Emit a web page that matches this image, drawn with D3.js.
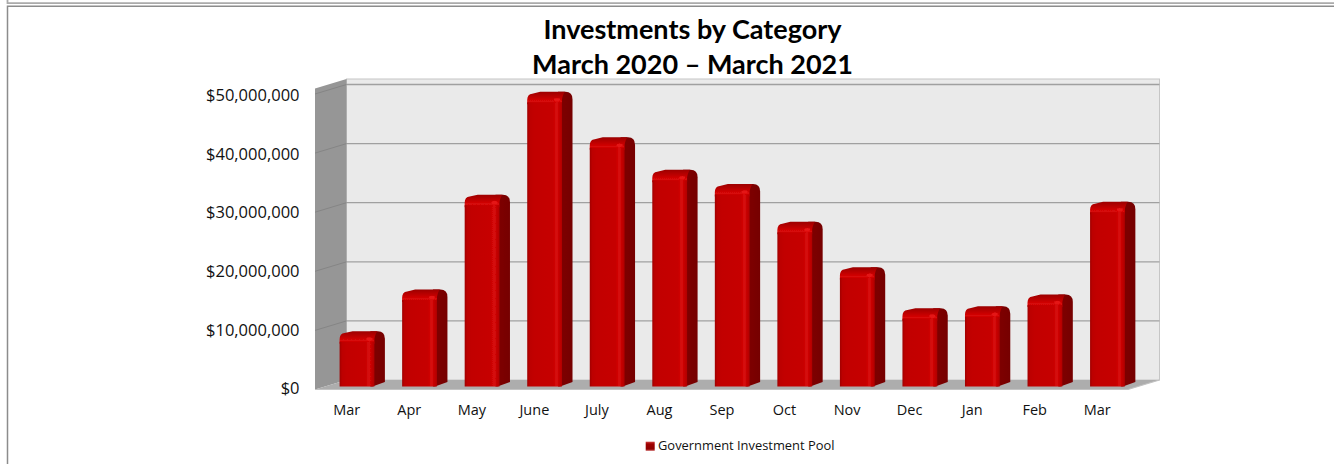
<!DOCTYPE html>
<html>
<head>
<meta charset="utf-8">
<script src="https://cdn.jsdelivr.net/npm/d3@7/dist/d3.min.js"></script>
<style>
html,body{margin:0;padding:0;background:#fff;}
svg{display:block;}
</style>
</head>
<body>
<svg id="chart" width="1334" height="464"></svg>
<script>
const categories = ["Mar","Apr","May","June","July","Aug","Sep","Oct","Nov","Dec","Jan","Feb","Mar"];
const seriesValues = [8.6,15.65,31.7,49.1,41.4,35.9,33.5,27.1,19.4,12.5,12.8,14.8,30.5].map(v => v * 1e6);
const tickValues = [0,10,20,30,40,50].map(v => v * 1e6);
const titleLines = ["Investments by Category","March 2020 \u2013 March 2021"];
const seriesName = "Government Investment Pool";

const svg = d3.select("#chart");
const defs = svg.append("defs");

// Plot box: front plane of the floor and the offset of the back wall
const box = {x0:315, x1:1128, depthX:31.5, depthY:-9.5, yZero:389.5, pxPer10M:59.1};
const yFront = d3.scaleLinear().domain([0,50e6]).range([box.yZero, box.yZero - 5*box.pxPer10M]);
const yLabel = d3.scaleLinear().domain([0,50e6]).range([388.5, 95.5]);
const xBand = d3.scaleBand().domain(d3.range(categories.length)).range([box.x0, box.x1]).padding(0);
const yBack = v => yFront(v) + box.depthY;

// Bar shading
function gradient(id, stops, vertical) {
  const lg = defs.append("linearGradient").attr("id",id);
  if (vertical) lg.attr("x1",0).attr("y1",0).attr("x2",0).attr("y2",1);
  stops.forEach(([o,c]) => lg.append("stop").attr("offset",o).attr("stop-color",c));
}
gradient("face",[[0,"#a00000"],[0.07,"#bc0000"],[0.2,"#c20000"],[0.74,"#c60000"],[0.85,"#d80c0c"],[0.93,"#c20000"],[1,"#b00000"]]);
gradient("side",[[0,"#800000"],[1,"#760000"]]);
gradient("cap",[[0,"#9c0000"],[0.4,"#bc0000"],[0.75,"#d80808"],[1,"#c80000"]],true);
gradient("swatch",[[0,"#d04040"],[0.25,"#a00000"],[0.75,"#900000"],[1,"#b83030"]],true);
defs.append("filter").attr("id","soft").attr("x","-10%").attr("y","-10%").attr("width","120%").attr("height","120%")
  .append("feGaussianBlur").attr("stdDeviation",0.5);

// Outer frames
svg.append("path").attr("d","M7.5,0V3.2H1334").attr("fill","none").attr("stroke","#ababab").attr("stroke-width",1.8);
svg.append("path").attr("d","M1334,6.3H7.5V464").attr("fill","none").attr("stroke","#8c8c8c").attr("stroke-width",1.5);

// Title
svg.append("text").attr("text-anchor","middle")
  .attr("font-family","Lato").attr("font-weight",700).attr("font-size",27).attr("fill","#000")
  .selectAll("tspan").data(titleLines).join("tspan")
  .attr("x",692.5).attr("y",(d,i)=>38.5+i*35.5).text(d=>d);

const g = svg.append("g");
const bx0 = box.x0 + box.depthX, bx1 = box.x1 + box.depthX;
const wallTop = yBack(50e6) - 5.5;

// Back wall, side wall, floor
g.append("rect").attr("x",bx0).attr("y",wallTop).attr("width",bx1-bx0).attr("height",yBack(0)-wallTop)
  .attr("fill","#eaeaea").attr("stroke","#c6c6c6").attr("stroke-width",1);
g.append("path").attr("d",`M${box.x0},${wallTop-box.depthY}L${bx0},${wallTop}V${yBack(0)}L${box.x0},${yFront(0)}Z`).attr("fill","#969696");
g.append("path").attr("d",`M${box.x0},${yFront(0)}L${bx0},${yBack(0)}H${bx1}L${box.x1},${yFront(0)}Z`).attr("fill","#adadad");
g.append("path").attr("d",`M${box.x0},${yFront(0)}H${box.x1}L${bx1},${yBack(0)}`).attr("fill","none").attr("stroke","#c2c2c2").attr("stroke-width",1.2);

// Gridlines on the back and side walls
tickValues.slice(1).forEach(t => {
  g.append("line").attr("x1",bx0).attr("x2",bx1).attr("y1",yBack(t)).attr("y2",yBack(t)).attr("stroke","#a0a0a0").attr("stroke-width",1.3);
  g.append("line").attr("x1",box.x0).attr("x2",bx0).attr("y1",yFront(t)).attr("y2",yBack(t)).attr("stroke","#858585").attr("stroke-width",1);
});

// Value axis
const yAxis = d3.axisLeft(yLabel).tickValues(tickValues).tickSize(0).tickPadding(0)
  .tickFormat(d => d3.format("$,")(d));
const axisG = svg.append("g").attr("transform","translate(299.5,0)").call(yAxis);
axisG.select(".domain").remove();
axisG.selectAll("text").attr("font-family","Open Sans").attr("font-size",16.5).attr("fill","#111");

// Category axis
const xAxis = d3.axisBottom(xBand).tickSize(0).tickPadding(0).tickFormat(i => categories[i]);
const xG = svg.append("g").attr("transform","translate(0.5,405)").call(xAxis);
xG.select(".domain").remove();
xG.selectAll("text").attr("font-family","Open Sans").attr("font-size",14.5).attr("fill","#111");

// Bars: soft rounded column with a dark right side and a lit top bevel
const barW = 34.8, barD = 10.5, barRise = 4.5, barBaseY = 386.5;
const barX = i => xBand(i) + 24.6;
const barTop = v => barBaseY - (yFront(0) - yFront(v));
const bars = g.append("g").attr("filter","url(#soft)")
  .selectAll("g.bar").data(seriesValues).join("g").attr("class","bar");
bars.append("path").attr("fill","url(#side)").attr("d",(v,i) => {
  const x = barX(i), t = barTop(v), R = x+barW+barD;
  return `M${x+barW-2},${barBaseY}L${R},${barBaseY-barRise}V${t+3}Q${R},${t-barRise} ${R-7},${t-barRise}H${x+barW-4}V${barBaseY}Z`;
});
bars.append("path").attr("fill","url(#cap)").attr("d",(v,i) => {
  const x = barX(i), t = barTop(v);
  return `M${x},${t+8}V${t+3.5}Q${x},${t-2} ${x+5},${t-2.6}L${x+13},${t-barRise}H${x+barW+3}Q${x+barW+1},${t-barRise+2} ${x+barW},${t+3}V${t+8}Z`;
});
bars.append("rect").attr("fill","url(#face)")
  .attr("x",(v,i)=>barX(i)).attr("y",v=>barTop(v)+6)
  .attr("width",barW).attr("height",v=>barBaseY-barTop(v)-6);
bars.append("ellipse").attr("fill","#e41414")
  .attr("cx",(v,i)=>barX(i)+barW-5).attr("cy",v=>barTop(v)+3.5).attr("rx",3).attr("ry",1.8);

// Legend
svg.append("rect").attr("x",645.7).attr("y",441.7).attr("width",9).attr("height",9).attr("fill","url(#swatch)");
svg.append("text").attr("x",658).attr("y",450).attr("font-family","Open Sans").attr("font-size",12.9).attr("fill","#111").text(seriesName);
</script>
</body>
</html>
